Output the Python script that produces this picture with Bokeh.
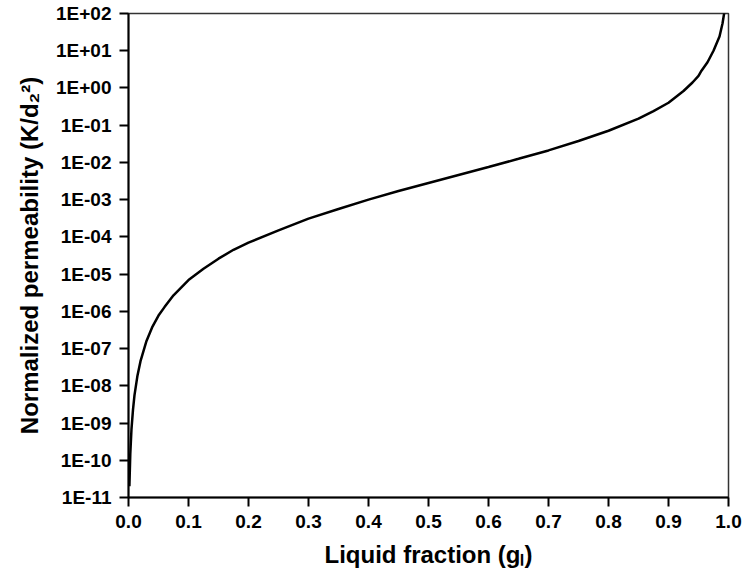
from bokeh.plotting import figure
from bokeh.models import FixedTicker, CustomJSTickFormatter, Range1d
from bokeh.embed import file_html
from bokeh.resources import INLINE

# Liquid fraction values and normalized permeability
liquid_fraction = [0.0015, 0.003, 0.005, 0.0075, 0.01, 0.015, 0.02, 0.03, 0.04, 0.05,
                   0.06, 0.075, 0.1, 0.125, 0.15, 0.175, 0.2, 0.25, 0.3, 0.35,
                   0.4, 0.45, 0.5, 0.55, 0.6, 0.65, 0.7, 0.75, 0.8, 0.85,
                   0.875, 0.9, 0.925, 0.94, 0.95, 0.955, 0.965, 0.975, 0.985, 0.99, 0.9935]
permeability = [2.0e-11, 1.5e-10, 7.0e-10, 2.3e-09, 5.6e-09, 1.9e-08, 4.6e-08, 1.6e-07, 3.9e-07, 7.7e-07,
                1.3e-06, 2.7e-06, 6.9e-06, 1.4e-05, 2.6e-05, 4.5e-05, 7.0e-05, 1.5e-04, 3.1e-04, 5.6e-04,
                1.0e-03, 1.7e-03, 2.8e-03, 4.6e-03, 7.5e-03, 1.25e-02, 2.1e-02, 3.75e-02, 7.1e-02, 1.5e-01,
                2.4e-01, 4.0e-01, 8.3e-01, 1.4e+00, 2.1e+00, 2.9e+00, 4.9e+00, 1.0e+01, 2.4e+01, 5.4e+01, 1.2e+02]

x_ticks = [0.0, 0.1, 0.2, 0.3, 0.4, 0.5, 0.6, 0.7, 0.8, 0.9, 1.0]
y_ticks = [1e-11, 1e-10, 1e-09, 1e-08, 1e-07, 1e-06, 1e-05, 1e-04, 1e-03, 1e-02, 1e-01, 1e+00, 1e+01, 1e+02]
y_tick_labels = ["1E-11", "1E-10", "1E-09", "1E-08", "1E-07", "1E-06", "1E-05", "1E-04",
                 "1E-03", "1E-02", "1E-01", "1E+00", "1E+01", "1E+02"]

FONT = "Liberation Sans"

p = figure(width=744, height=579, y_axis_type="log",
           x_range=Range1d(0.0, 1.0), y_range=Range1d(1e-11, 1e2),
           output_backend="svg", toolbar_location=None,
           min_border_left=128, min_border_right=16, min_border_top=13, min_border_bottom=82)

p.line(liquid_fraction, permeability, line_color="black", line_width=2.5)

p.grid.visible = False
p.background_fill_color = "white"
p.border_fill_color = "white"
p.outline_line_color = "#333333"
p.outline_line_width = 1.5

for ax in (p.xaxis[0], p.yaxis[0]):
    ax.axis_line_color = "black"
    ax.axis_line_width = 2
    ax.major_tick_line_color = "black"
    ax.major_tick_line_width = 2
    ax.major_tick_out = 9
    ax.major_tick_in = 0
    ax.minor_tick_line_color = None
    ax.major_label_text_font = FONT
    ax.major_label_text_font_style = "bold"
    ax.major_label_text_font_size = "19px"
    ax.major_label_text_color = "black"
    ax.major_label_standoff = 8
    ax.axis_label_text_font = FONT
    ax.axis_label_text_font_style = "bold"
    ax.axis_label_text_font_size = "24px"
    ax.axis_label_text_color = "black"

p.xaxis[0].ticker = FixedTicker(ticks=x_ticks)
p.xaxis[0].formatter = CustomJSTickFormatter(code="return tick.toFixed(1);")
p.xaxis[0].axis_label = "Liquid fraction (gₗ)"
p.xaxis[0].axis_label_standoff = 10

p.yaxis[0].ticker = FixedTicker(ticks=y_ticks)
p.yaxis[0].formatter = CustomJSTickFormatter(
    args=dict(labels=y_tick_labels),
    code="const i = Math.round(Math.log10(tick)) + 11; return labels[i];")
p.yaxis[0].axis_label = "Normalized permeability (K/d₂²)"
p.yaxis[0].axis_label_standoff = 10

open("out.html", "w").write(file_html(p, INLINE))
